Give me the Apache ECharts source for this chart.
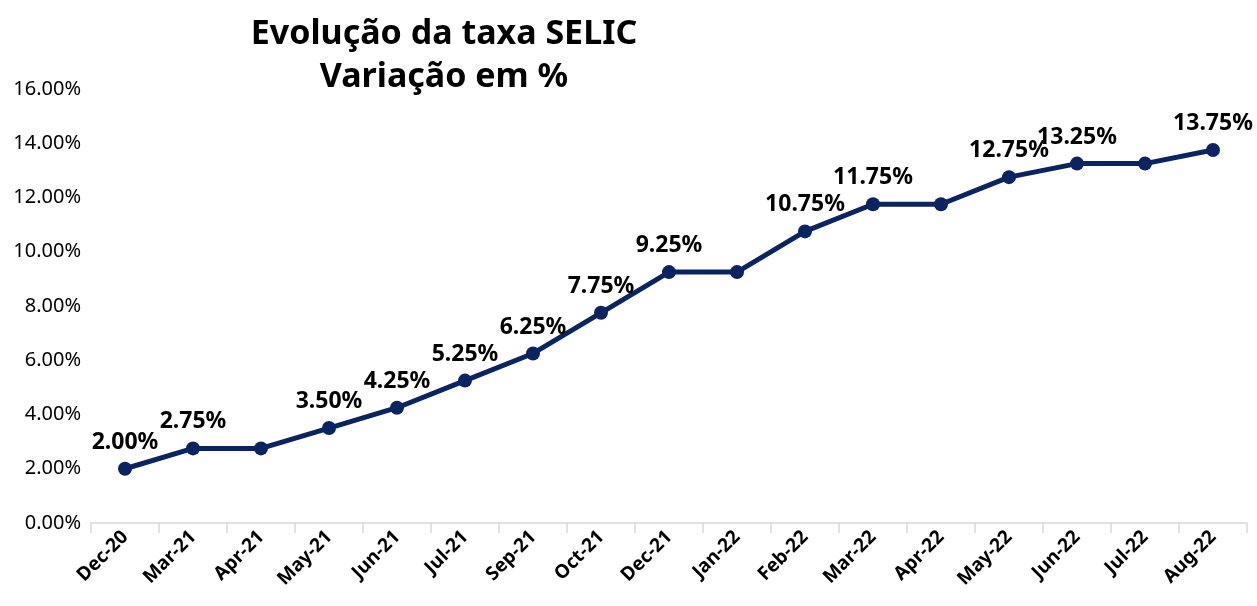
<!DOCTYPE html>
<html>
<head>
<meta charset="utf-8">
<script src="https://cdn.jsdelivr.net/npm/echarts@6/dist/echarts.min.js"></script>
<style>
  html, body { margin: 0; padding: 0; background: #fff; }
  #chart { width: 1257px; height: 606px; }
</style>
</head>
<body>
<div id="chart"></div>
<script>
// data
const months = ["Dec-20", "Mar-21", "Apr-21", "May-21", "Jun-21", "Jul-21", "Sep-21", "Oct-21",
  "Dec-21", "Jan-22", "Feb-22", "Mar-22", "Apr-22", "May-22", "Jun-22", "Jul-22", "Aug-22"];
const selic = [2.00, 2.75, 2.75, 3.50, 4.25, 5.25, 6.25, 7.75,
  9.25, 9.25, 10.75, 11.75, 11.75, 12.75, 13.25, 13.25, 13.75];
// which points carry a value label in the original
const showLabel = [true, true, false, true, true, true, true, true,
  true, false, true, true, false, true, true, false, true];

const titleText = "Evolução da taxa SELIC\nVariação em %";
const navy = "#0a2461";
const font = "Noto Sans";

const chart = echarts.init(document.getElementById("chart"));

chart.setOption({
  animation: false,
  title: {
    text: titleText,
    left: 439,
    top: 8,
    textAlign: "center",
    textStyle: {
      fontFamily: font,
      fontWeight: "bold",
      fontSize: 34,
      lineHeight: 43,
      color: "#000"
    }
  },
  grid: { left: 91, right: 10, top: 89, bottom: 83 },
  xAxis: {
    type: "category",
    data: months,
    boundaryGap: true,
    axisLine: { lineStyle: { color: "#d9d9d9", width: 1.5 } },
    axisTick: { show: true, length: 10, lineStyle: { color: "#d9d9d9", width: 1.5 } },
    axisLabel: {
      rotate: 45,
      margin: 11,
      fontFamily: font,
      fontWeight: "bold",
      fontSize: 19,
      color: "#000"
    }
  },
  yAxis: {
    type: "value",
    min: 0,
    max: 16,
    interval: 2,
    axisLine: { show: false },
    axisTick: { show: false },
    splitLine: { show: false },
    axisLabel: {
      margin: 10,
      fontFamily: font,
      fontSize: 20,
      color: "#000",
      formatter: (v) => v.toFixed(2) + "%"
    }
  },
  series: [{
    type: "line",
    data: selic.map((v, i) => ({
      value: v,
      label: { show: showLabel[i] }
    })),
    symbol: "circle",
    symbolSize: 14,
    lineStyle: { color: navy, width: 5 },
    itemStyle: { color: navy },
    label: {
      position: "top",
      distance: 8,
      fontFamily: font,
      fontWeight: "bold",
      fontSize: 23,
      color: "#000",
      formatter: (p) => p.value.toFixed(2) + "%"
    }
  }]
});
</script>
</body>
</html>
